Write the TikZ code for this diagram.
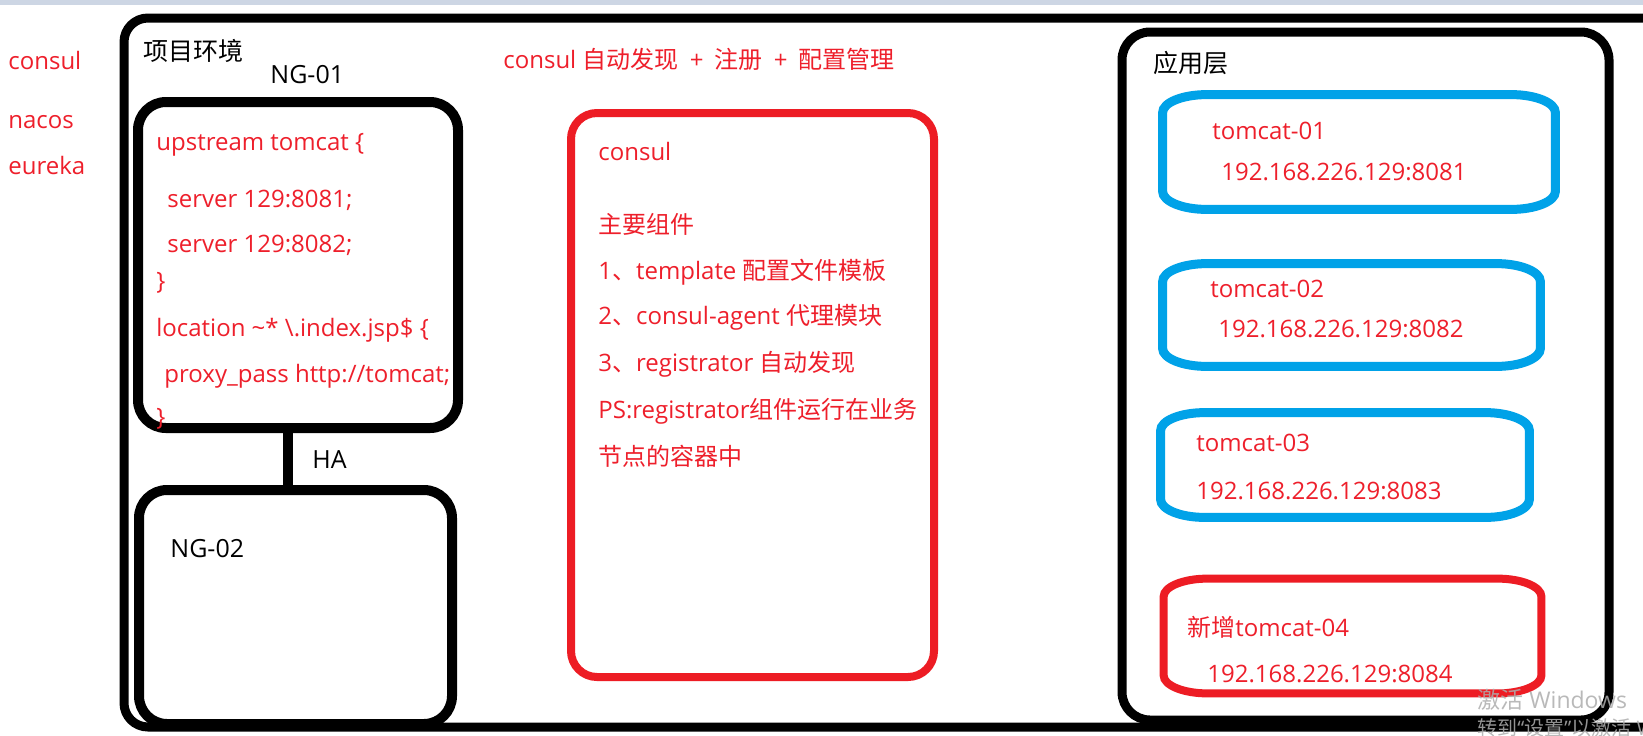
\documentclass[tikz,border=0pt]{standalone}
\usepackage{fontspec}
\setmainfont{Open Sans}
\newfontfamily\cjk{Noto Sans CJK SC}
\usepackage{tikz}
\usetikzlibrary{fit}
\definecolor{pRed}{HTML}{ED1C24}
\definecolor{pBlue}{HTML}{00A2E8}
\definecolor{tRed}{HTML}{EE1F2B}
\definecolor{band}{HTML}{CDD6E4}
\definecolor{wmGray}{HTML}{ADADAD}
\tikzset{
  boxln/.style={draw,line width=4.5pt,rounded corners=12pt,inner sep=0pt},
  rboxln/.style={draw=pRed,line width=4pt,rounded corners=13pt,inner sep=0pt},
  hold/.style={inner sep=0pt},
  oval/.style={line width=4.5pt,draw=pBlue},
  txt/.style={anchor=base west,inner sep=0pt,text=tRed,font=\fontsize{12}{14}\selectfont},
  lbl/.style={anchor=base west,inner sep=0pt,font=\fontsize{12.5}{15}\selectfont},
  link/.style={line width=5pt},
  wm/.style={anchor=base west,inner sep=0pt,text=wmGray,text opacity=0.85,font=\fontsize{11.5}{13}\selectfont}
}
\newcommand{\zh}[1]{{\cjk #1}}
\newcommand{\pl}{\hspace{2.5pt} + \hspace{2.5pt}}
\newcommand{\ovbox}[2]{\draw[#2] ([xshift=22pt]#1.north west) -- ([xshift=-22pt]#1.north east)
  arc[start angle=90,end angle=0,x radius=22pt,y radius=9pt] -- ([yshift=9pt]#1.south east)
  arc[start angle=0,end angle=-90,x radius=22pt,y radius=9pt] -- ([xshift=22pt]#1.south west)
  arc[start angle=270,end angle=180,x radius=22pt,y radius=9pt] -- ([yshift=-9pt]#1.north west)
  arc[start angle=180,end angle=90,x radius=22pt,y radius=9pt] -- cycle;}

\begin{document}
\begin{tikzpicture}[x=0.5pt,y=-0.5pt]
\useasboundingbox (0,0) rectangle (1643,735);
\clip (0,0) rectangle (1643,735);
\fill[white] (0,0) rectangle (1643,735);
\fill[band] (0,0) rectangle (1643,5);
\node[txt] (consul) at (8,69) {consul};
\node[txt] (nacos) at (8,128) {nacos};
\node[txt] (eureka) at (8,174) {eureka};
\node[boxln,fit={(124,18) (1700,727)}] (env) {};
\node[lbl] (envt) at (143,60) {\zh{项目环境}};
\node[lbl] (ng1t) at (270,83) {NG-01};
\node[txt] (title) at (503,68) {consul \zh{自动发现}\pl\zh{注册}\pl\zh{配置管理}};
\node[boxln,line width=5pt,rounded corners=14pt,fit={(138,102) (458,428)}] (ng1) {};
\node[boxln,line width=5pt,rounded corners=14pt,fit={(139,490) (452,724)}] (ng2) {};
\draw[link] ([xshift=-4pt]ng2.north |- ng1.south) -- ([xshift=-4pt,yshift=-3pt]ng2.north);
\node[lbl] (ha) at (312,468) {HA};
\node[lbl] (ng2t) at (170,557) {NG-02};
\node[txt] (up) at (156,150) {upstream tomcat \{};
\node[txt] (srv1) at (167,207) {server 129:8081;};
\node[txt] (srv2) at (167,252) {server 129:8082;};
\node[txt] (upend) at (156,289) {\}};
\node[txt] (loc) at (156,336) {location \textasciitilde* \textbackslash.index.jsp\$ \{};
\node[txt] (pass) at (164,382) {proxy\_pass http://tomcat;};
\node[txt] (locend) at (156,425) {\}};
\node[rboxln,fit={(571,113) (934,677)}] (cbox) {};
\node[txt] (ctitle) at (598,160) {consul};
\node[txt] (cmain) at (598,233) {\zh{主要组件}};
\node[txt] (c1) at (598,279) {1\zh{、}template \zh{配置文件模板}};
\node[txt] (c2) at (598,324) {2\zh{、}consul-agent \zh{代理模块}};
\node[txt] (c3) at (598,371) {3\zh{、}registrator \zh{自动发现}};
\node[txt] (cps) at (598,418) {PS:registrator\zh{组件运行在业务}};
\node[txt] (cps2) at (598,465) {\zh{节点的容器中}};
\node[boxln,rounded corners=14pt,fit={(1122,32) (1609,720)}] (app) {};
\node[lbl] (appt) at (1153,72) {\zh{应用层}};
\node[hold,fit={(1163,95) (1555,209)}] (t1) {}; \ovbox{t1}{oval}
\node[txt] (t1n) at (1212,139) {tomcat-01};
\node[txt] (t1a) at (1221,180) {192.168.226.129:8081};
\node[hold,fit={(1163,264) (1540,366)}] (t2) {}; \ovbox{t2}{oval}
\node[txt] (t2n) at (1210,297) {tomcat-02};
\node[txt] (t2a) at (1218,337) {192.168.226.129:8082};
\node[hold,fit={(1161,413) (1529,517)}] (t3) {}; \ovbox{t3}{oval}
\node[txt] (t3n) at (1196,451) {tomcat-03};
\node[txt] (t3a) at (1196,499) {192.168.226.129:8083};
\node[hold,fit={(1164,579) (1541,693)}] (t4) {}; \ovbox{t4}{oval,draw=pRed,line width=4pt}
\node[txt] (t4n) at (1187,636) {\zh{新增}tomcat-04};
\node[txt] (t4a) at (1207,682) {192.168.226.129:8084};
\node[wm] (wm1) at (1477,708) {\zh{激活} Windows};
\node[wm,font=\fontsize{10}{12}\selectfont] (wm2) at (1477,735) {\zh{转到}“\zh{设置}”\zh{以激活} Win};
\end{tikzpicture}
\end{document}
